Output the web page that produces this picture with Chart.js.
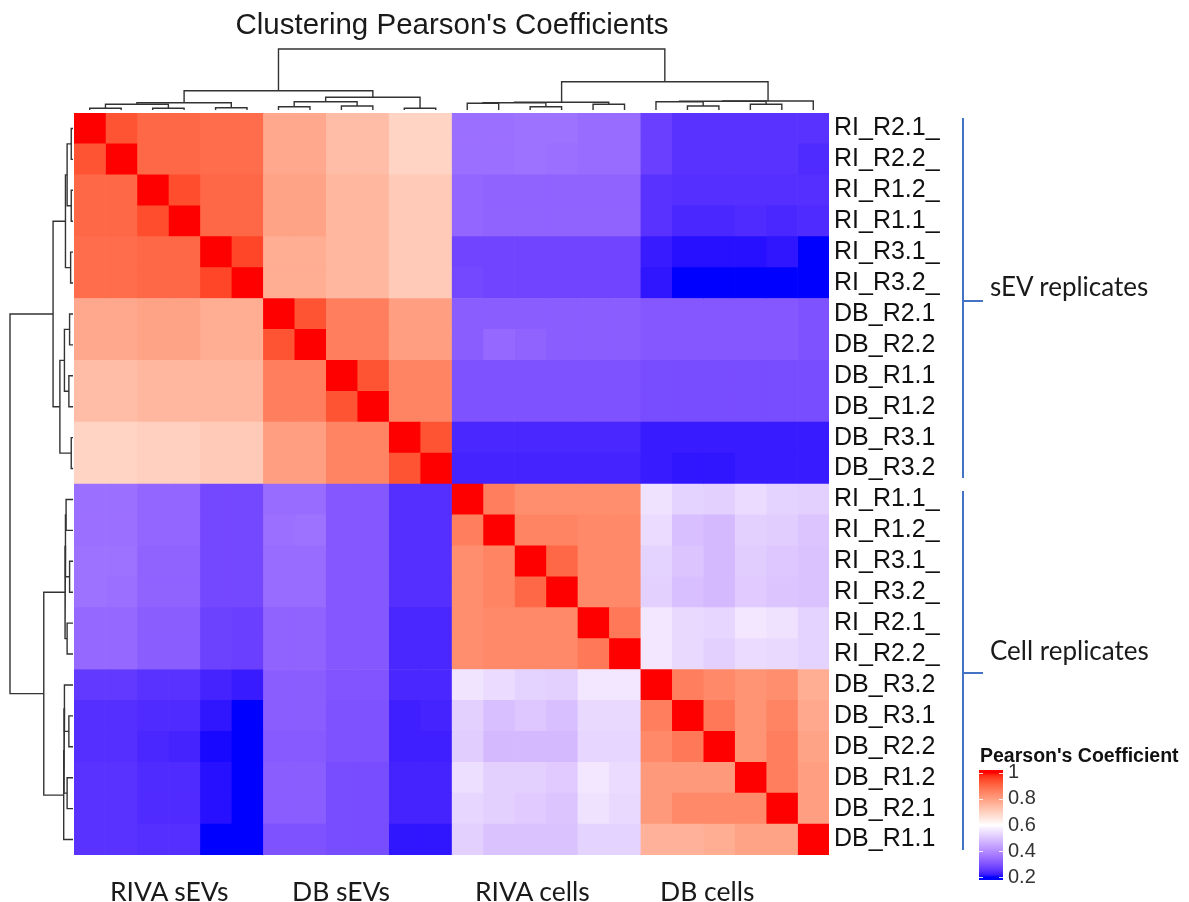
<!DOCTYPE html>
<html>
<head>
<meta charset="utf-8">
<title>Clustering Pearson's Coefficients</title>
<script src="https://cdn.jsdelivr.net/npm/chart.js@4.4.1/dist/chart.umd.min.js"></script>
<style>
  html, body { margin: 0; padding: 0; background: #fff; }
  #page { position: relative; width: 1189px; height: 902px; overflow: hidden; }
  #page canvas { position: absolute; left: 0; top: 0; }
  .txt { position: absolute; white-space: nowrap; line-height: 1; color: #1a1a1a; }
  .titulo { font: 29.5px "Liberation Sans", Arial, sans-serif; left: 452px; top: 7px; transform: translateX(-50%); }
  .grupo { font: 26.5px Lato, "Open Sans", sans-serif; top: 875px; }
  .rep { font: 26px Lato, "Open Sans", sans-serif; left: 990px; }
  .legTit { font: bold 19.5px "Liberation Sans", Arial, sans-serif; left: 980px; top: 744px; color: #111; }
  .chave { position: absolute; background: #4472c4; }
</style>
</head>
<body>
<div id="page">
  <canvas id="heatmap" width="1189" height="902"></canvas>
  <canvas id="dendroTopo" width="1189" height="902"></canvas>
  <canvas id="dendroLado" width="1189" height="902"></canvas>
  <canvas id="escala" width="1189" height="902"></canvas>

  <div class="txt titulo">Clustering Pearson's Coefficients</div>
  <div class="txt grupo" style="left:110px">RIVA sEVs</div>
  <div class="txt grupo" style="left:292px">DB sEVs</div>
  <div class="txt grupo" style="left:475px">RIVA cells</div>
  <div class="txt grupo" style="left:660px">DB cells</div>

  <div class="chave" style="left:962px; top:118px; width:1.5px; height:360px"></div>
  <div class="chave" style="left:962px; top:300px; width:21px; height:1.5px"></div>
  <div class="txt rep" style="top:270px">sEV replicates</div>

  <div class="chave" style="left:962px; top:491px; width:1.5px; height:359px"></div>
  <div class="chave" style="left:962px; top:672px; width:21px; height:1.5px"></div>
  <div class="txt rep" style="top:634px">Cell replicates</div>

  <div class="txt legTit">Pearson's Coefficient</div>
</div>

<script>
// amostras na ordem do agrupamento (linhas de cima para baixo = colunas da esquerda para a direita)
const amostras = [
    "RI_R2.1_", "RI_R2.2_", "RI_R1.2_", "RI_R1.1_", "RI_R3.1_", "RI_R3.2_",
    "DB_R2.1", "DB_R2.2", "DB_R1.1", "DB_R1.2", "DB_R3.1", "DB_R3.2",
    "RI_R1.1_", "RI_R1.2_", "RI_R3.1_", "RI_R3.2_", "RI_R2.1_", "RI_R2.2_",
    "DB_R3.2", "DB_R3.1", "DB_R2.2", "DB_R1.2", "DB_R2.1", "DB_R1.1"
];

// coeficientes de Pearson, uma linha por amostra
const r00 = [1, .93, .90, .90, .89, .89, .78, .78, .74, .74, .69, .69, .35, .35, .355, .355, .345, .345, .27, .25, .25, .25, .25, .25];
const r01 = [.93, 1, .90, .90, .89, .89, .78, .78, .74, .74, .69, .69, .35, .35, .355, .35, .345, .345, .27, .25, .25, .25, .25, .24];
const r02 = [.90, .90, 1, .94, .90, .90, .79, .79, .75, .75, .71, .71, .335, .33, .33, .33, .33, .33, .25, .245, .245, .245, .245, .245];
const r03 = [.90, .90, .94, 1, .90, .90, .79, .79, .75, .75, .71, .71, .335, .33, .33, .33, .33, .33, .25, .235, .235, .24, .235, .24];
const r04 = [.89, .89, .90, .90, 1, .95, .77, .77, .75, .75, .71, .71, .28, .28, .28, .28, .28, .28, .22, .21, .21, .21, .215, .20];
const r05 = [.89, .89, .90, .90, .95, 1, .77, .77, .75, .75, .71, .71, .285, .28, .28, .28, .28, .28, .215, .19, .19, .19, .19, .19];
const r06 = [.78, .78, .79, .79, .77, .77, 1, .93, .86, .86, .80, .80, .32, .32, .32, .32, .32, .32, .31, .31, .31, .31, .31, .30];
const r07 = [.78, .78, .79, .79, .77, .77, .93, 1, .86, .86, .80, .80, .32, .34, .33, .32, .32, .32, .31, .31, .31, .31, .31, .30];
const r08 = [.74, .74, .75, .75, .75, .75, .86, .86, 1, .93, .85, .85, .30, .30, .30, .30, .30, .30, .29, .29, .29, .29, .29, .29];
const r09 = [.74, .74, .75, .75, .75, .75, .86, .86, .93, 1, .85, .85, .30, .30, .30, .30, .30, .30, .29, .29, .29, .29, .29, .29];
const r10 = [.69, .69, .70, .70, .71, .71, .80, .80, .85, .85, 1, .93, .235, .235, .235, .235, .235, .235, .22, .22, .22, .22, .22, .22];
const r11 = [.69, .69, .70, .70, .71, .71, .80, .80, .85, .85, .93, 1, .23, .23, .23, .23, .23, .23, .22, .215, .215, .22, .22, .22];
const r12 = [.35, .35, .335, .335, .285, .285, .345, .345, .31, .31, .245, .245, 1, .86, .83, .83, .83, .83, .55, .525, .52, .54, .525, .52];
const r13 = [.35, .35, .335, .335, .285, .285, .35, .355, .31, .31, .245, .245, .86, 1, .85, .85, .84, .84, .54, .49, .48, .52, .515, .50];
const r14 = [.355, .355, .33, .33, .285, .285, .345, .345, .31, .31, .245, .245, .83, .85, 1, .90, .84, .84, .525, .50, .48, .515, .505, .495];
const r15 = [.355, .35, .33, .33, .285, .285, .345, .345, .31, .31, .245, .245, .83, .85, .90, 1, .84, .84, .52, .49, .48, .51, .50, .495];
const r16 = [.34, .34, .32, .32, .275, .27, .33, .33, .31, .31, .235, .235, .83, .84, .84, .84, 1, .87, .56, .535, .53, .56, .55, .525];
const r17 = [.34, .34, .32, .32, .275, .27, .33, .33, .31, .31, .235, .235, .83, .84, .84, .84, .87, 1, .56, .535, .52, .54, .535, .525];
const r18 = [.26, .26, .25, .25, .23, .22, .32, .32, .305, .305, .235, .235, .555, .54, .525, .52, .56, .56, 1, .86, .84, .82, .83, .77];
const r19 = [.245, .245, .24, .24, .215, .19, .32, .32, .30, .30, .225, .23, .52, .49, .505, .49, .535, .535, .86, 1, .87, .82, .85, .78];
const r20 = [.245, .245, .235, .23, .205, .19, .315, .315, .30, .30, .225, .225, .515, .48, .48, .48, .53, .53, .84, .87, 1, .82, .86, .79];
const r21 = [.25, .25, .24, .24, .21, .19, .32, .32, .29, .29, .23, .23, .545, .52, .52, .51, .56, .54, .81, .81, .81, 1, .86, .80];
const r22 = [.25, .25, .24, .24, .21, .19, .32, .32, .29, .29, .23, .23, .53, .52, .51, .50, .55, .535, .81, .84, .84, .84, 1, .80];
const r23 = [.25, .25, .245, .245, .20, .19, .30, .30, .29, .29, .215, .215, .52, .495, .495, .495, .525, .525, .76, .76, .77, .79, .79, 1];
const matriz = [r00, r01, r02, r03, r04, r05, r06, r07, r08, r09, r10, r11,
                r12, r13, r14, r15, r16, r17, r18, r19, r20, r21, r22, r23];

// fusões do agrupamento hierárquico (estilo hclust: negativo = folha, positivo = fusão anterior), com altura
const fusoes = [
    [-1, -2, .017], [-3, -4, .017], [-5, -6, .023], [1, 2, .057], [4, 3, .073],
    [-7, -8, .033], [-9, -10, .040], [6, 7, .083], [-11, -12, .017], [8, 9, .127],
    [5, 10, .193],
    [-13, -14, .067], [-15, -16, .033], [-17, -18, .057], [12, 13, .073], [15, 14, .077],
    [-20, -21, .040], [-19, 17, .083], [-22, -23, .057], [18, 19, .087], [20, -24, .090],
    [16, 21, .283],
    [11, 22, .61]
];
const alturaMax = 0.61;

// escala de cores
const escalaValores = [0.2, 0.6, 1];
const escalaCores = [[0, 0, 255], [255, 255, 255], [255, 0, 0]];
const escalaTicks = [0.2, 0.4, 0.6, 0.8, 1];

// ---- cores interpoladas em LAB ----
function paraLinear(c) { c /= 255; return c <= 0.04045 ? c / 12.92 : Math.pow((c + 0.055) / 1.055, 2.4); }
function paraSrgb(c) { c = Math.min(1, Math.max(0, c)); return 255 * (c <= 0.0031308 ? 12.92 * c : 1.055 * Math.pow(c, 1 / 2.4) - 0.055); }
function rgbParaLab(rgb) {
    const [R, G, B] = rgb.map(paraLinear);
    const X = (0.4124 * R + 0.3576 * G + 0.1805 * B) / 0.95047;
    const Y = 0.2126 * R + 0.7152 * G + 0.0722 * B;
    const Z = (0.0193 * R + 0.1192 * G + 0.9505 * B) / 1.08883;
    const f = t => t > 0.008856 ? Math.cbrt(t) : 7.787 * t + 16 / 116;
    const fx = f(X), fy = f(Y), fz = f(Z);
    return [116 * fy - 16, 500 * (fx - fy), 200 * (fy - fz)];
}
function labParaRgb([L, a, b]) {
    const fy = (L + 16) / 116, fx = fy + a / 500, fz = fy - b / 200;
    const inv = t => t * t * t > 0.008856 ? t * t * t : (t - 16 / 116) / 7.787;
    const X = 0.95047 * inv(fx), Y = inv(fy), Z = 1.08883 * inv(fz);
    const R = 3.2406 * X - 1.5372 * Y - 0.4986 * Z;
    const G = -0.9689 * X + 1.8758 * Y + 0.0415 * Z;
    const B = 0.0557 * X - 0.2040 * Y + 1.0570 * Z;
    return [R, G, B].map(paraSrgb).map(Math.round);
}
const escalaLab = escalaCores.map(rgbParaLab);

function corDe(v) {
    v = Math.min(escalaValores[2], Math.max(escalaValores[0], v));
    const i = v <= escalaValores[1] ? 0 : 1;
    const t = (v - escalaValores[i]) / (escalaValores[i + 1] - escalaValores[i]);
    const lab = escalaLab[i].map((c, k) => c + (escalaLab[i + 1][k] - c) * t);
    const [r, g, b] = labParaRgb(lab);
    return `rgb(${r},${g},${b})`;
}

const semInteracao = { legend: { display: false }, tooltip: { enabled: false } };

// ---- mapa de calor: barras horizontais empilhadas, uma série por coluna ----
const seriesColunas = amostras.map((nome, j) => ({
    label: nome,
    data: amostras.map(() => 1),
    backgroundColor: matriz.map(linha => corDe(linha[j])),
    borderWidth: 0,
    barPercentage: 1,
    categoryPercentage: 1
}));

new Chart(document.getElementById("heatmap"), {
    type: "bar",
    data: { labels: amostras, datasets: seriesColunas },
    options: {
        indexAxis: "y",
        responsive: false,
        animation: false,
        layout: { padding: { left: 74, top: 113, right: 220, bottom: 47 } },
        plugins: semInteracao,
        scales: {
            x: { stacked: true, min: 0, max: amostras.length, display: false },
            y: {
                stacked: true,
                position: "right",
                grid: { display: false, drawTicks: false },
                border: { display: false },
                afterFit: s => { s.width = 140; },
                ticks: {
                    autoSkip: false,
                    padding: 5,
                    color: "#111",
                    font: { family: "Liberation Sans", size: 25 }
                }
            }
        }
    }
});

// ---- dendrogramas ----
function segmentosDendro(vertical) {
    const pos = [], alt = [];
    const ponto = (id) => id < 0 ? [-id - 1, 0] : [pos[id - 1], alt[id - 1]];
    return fusoes.map(([a, b, h]) => {
        const [xa, ha] = ponto(a);
        const [xb, hb] = ponto(b);
        pos.push((xa + xb) / 2);
        alt.push(h);
        const pts = [[xa, ha], [xa, h], [xb, h], [xb, hb]];
        return {
            data: pts.map(([p, q]) => vertical ? { x: p, y: q } : { x: q, y: p }),
            showLine: true,
            borderColor: "#333",
            borderWidth: 1.4,
            pointRadius: 0,
            tension: 0,
            clip: false
        };
    });
}

new Chart(document.getElementById("dendroTopo"), {
    type: "scatter",
    data: { datasets: segmentosDendro(true) },
    options: {
        responsive: false,
        animation: false,
        layout: { padding: { left: 74, right: 360, top: 49, bottom: 792 } },
        plugins: semInteracao,
        scales: {
            x: { min: -0.5, max: amostras.length - 0.5, display: false },
            y: { min: 0, max: alturaMax, display: false }
        }
    }
});

new Chart(document.getElementById("dendroLado"), {
    type: "scatter",
    data: { datasets: segmentosDendro(false) },
    options: {
        responsive: false,
        animation: false,
        layout: { padding: { left: 10, right: 1116, top: 113, bottom: 47 } },
        plugins: semInteracao,
        scales: {
            x: { min: 0, max: alturaMax, reverse: true, display: false },
            y: { min: -0.5, max: amostras.length - 0.5, reverse: true, display: false }
        }
    }
});

// ---- barra da escala de cores ----
function gradienteEscala(ctx) {
    const chart = ctx.chart;
    if (!chart.chartArea) return "#fff";
    const y = chart.scales.y;
    const y0 = y.getPixelForValue(escalaValores[0]);
    const y1 = y.getPixelForValue(escalaValores[2]);
    const g = chart.ctx.createLinearGradient(0, y0, 0, y1);
    for (let k = 0; k <= 40; k++) {
        const v = escalaValores[0] + (escalaValores[2] - escalaValores[0]) * k / 40;
        g.addColorStop(k / 40, corDe(v));
    }
    return g;
}

// tracinhos brancos nas bordas da barra, na altura de cada marca
const marcasBarra = {
    id: "marcasBarra",
    afterDatasetsDraw(chart) {
        const { ctx, chartArea: a, scales: { y } } = chart;
        ctx.save();
        ctx.strokeStyle = "rgba(255,255,255,0.85)";
        ctx.lineWidth = 1.2;
        y.ticks.forEach(t => {
            const py = Math.round(y.getPixelForValue(t.value)) + 0.5;
            ctx.beginPath();
            ctx.moveTo(a.left, py); ctx.lineTo(a.left + 4, py);
            ctx.moveTo(a.right - 4, py); ctx.lineTo(a.right, py);
            ctx.stroke();
        });
        ctx.restore();
    }
};

new Chart(document.getElementById("escala"), {
    type: "bar",
    data: {
        labels: [""],
        datasets: [{
            data: [[0.18, 1.02]],
            backgroundColor: gradienteEscala,
            borderWidth: 0,
            barPercentage: 1,
            categoryPercentage: 1
        }]
    },
    plugins: [marcasBarra],
    options: {
        responsive: false,
        animation: false,
        layout: { padding: { left: 979, right: 126, top: 770, bottom: 22 } },
        plugins: semInteracao,
        scales: {
            x: { display: false },
            y: {
                min: 0.18,
                max: 1.02,
                position: "right",
                grid: { display: false, drawTicks: false },
                border: { display: false },
                afterFit: s => { s.width = 60; },
                afterBuildTicks: s => { s.ticks = escalaTicks.map(v => ({ value: v })); },
                ticks: {
                    padding: 5,
                    color: "#333",
                    font: { family: "Liberation Sans", size: 20 },
                    callback: v => String(+v.toFixed(1))
                }
            }
        }
    }
});
</script>
</body>
</html>
